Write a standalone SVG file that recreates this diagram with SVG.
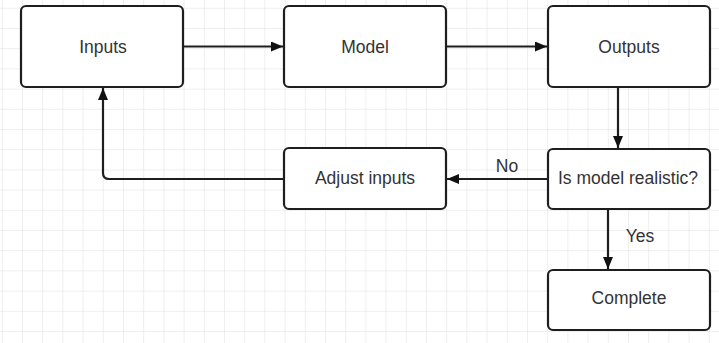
<svg xmlns="http://www.w3.org/2000/svg" width="719" height="343" viewBox="0 0 719 343">
<style>
.node rect{fill:#fff;stroke:#1e1e1e;stroke-width:2.2}
.node text,.lbl{font-family:"Liberation Sans",Arial,sans-serif;font-size:17.5px;fill:#333;text-anchor:middle}
.conn{fill:none;stroke:#1e1e1e;stroke-width:2.2}
</style>
<defs>
<pattern id="grid" x="1.8" y="7.8" width="20.2" height="20.2" patternUnits="userSpaceOnUse">
<path d="M0 0H20.2M0 0V20.2" fill="none" stroke="#dedede" stroke-width="1"/>
</pattern>
<marker id="arr" viewBox="0 0 12 10" refX="12" refY="5" markerWidth="12" markerHeight="10" markerUnits="userSpaceOnUse" orient="auto">
<path d="M0 0L12 5L0 10Z" fill="#111"/>
</marker>
</defs>
<rect width="719" height="343" fill="#fff"/>
<rect width="719" height="343" fill="url(#grid)"/>
<g id="connectors">
<path class="conn" d="M183 46.5H283" marker-end="url(#arr)"/>
<path class="conn" d="M446 46.5H547" marker-end="url(#arr)"/>
<path class="conn" d="M618 87V148" marker-end="url(#arr)"/>
<path class="conn" d="M548 179H447" marker-end="url(#arr)"/>
<path class="conn" d="M284 179H109Q103 179 103 173V88" marker-end="url(#arr)"/>
<path class="conn" d="M608 209V269" marker-end="url(#arr)"/>
<text class="lbl" x="507" y="172">No</text>
<text class="lbl" x="640" y="242">Yes</text>
</g>
<g id="inputs" class="node"><rect x="21" y="6" width="162" height="81" rx="5"/><text x="103" y="52.5">Inputs</text></g>
<g id="model" class="node"><rect x="284" y="6" width="162" height="81" rx="5"/><text x="365" y="52.5">Model</text></g>
<g id="outputs" class="node"><rect x="548" y="6" width="162" height="81" rx="5"/><text x="629" y="52.5">Outputs</text></g>
<g id="adjust" class="node"><rect x="284" y="148" width="162" height="61" rx="5"/><text x="365" y="183.5">Adjust inputs</text></g>
<g id="realistic" class="node"><rect x="548" y="149" width="162" height="60" rx="5"/><text x="628" y="183.5">Is model realistic?</text></g>
<g id="complete" class="node"><rect x="548" y="270" width="162" height="60" rx="5"/><text x="629" y="304">Complete</text></g>
</svg>
